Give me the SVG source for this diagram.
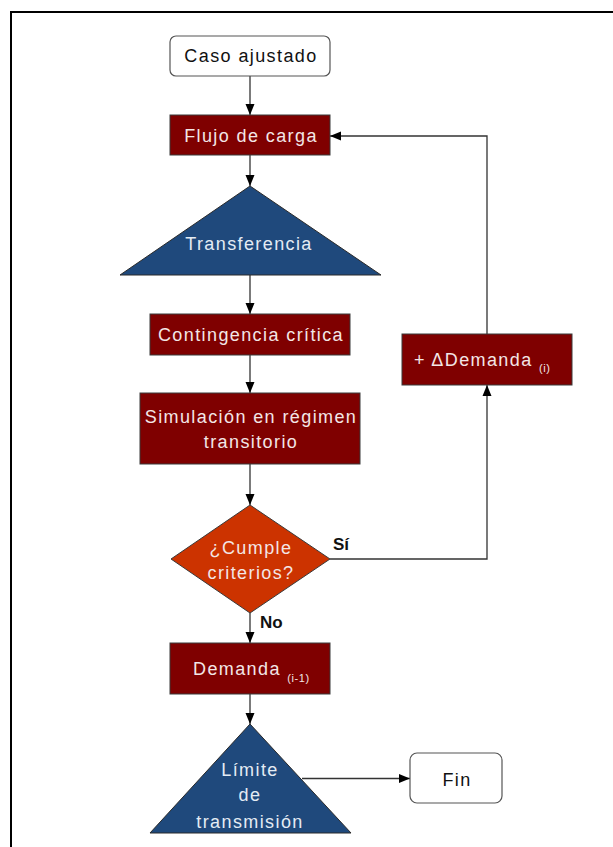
<svg xmlns="http://www.w3.org/2000/svg" width="613" height="847" viewBox="0 0 613 847">
  <defs>
    <marker id="arrow" markerUnits="userSpaceOnUse" markerWidth="12" markerHeight="12" viewBox="0 0 12 12" refX="11" refY="6" orient="auto">
      <path d="M0,1.5 L11,6 L0,10.5 Z" fill="#000"/>
    </marker>
    <style>
      .lbl { font-family: "Liberation Sans", Arial, sans-serif; font-size: 18px; letter-spacing: 1.4px; text-anchor: middle; }
      .light { fill: #f3e6e6; }
      .blue-t { fill: #e4ecf4; }
      .dark { fill: #111; }
      .sub { font-size: 11px; letter-spacing: 0.6px; }
      .tag { font-family: "Liberation Sans", Arial, sans-serif; font-size: 17px; font-weight: bold; fill: #111; }
      .term { fill: #fff; stroke: #555; stroke-width: 1.2; }
      .proc { fill: #7f0000; stroke: #3a3a3a; stroke-width: 1; }
      .tri { fill: #1f497c; stroke: #2a2a2a; stroke-width: 1; }
      .dec { fill: #cc3300; stroke: #3a3a3a; stroke-width: 1; }
      .edge { fill: none; stroke: #333; stroke-width: 1.3; }
    </style>
  </defs>

  <rect width="613" height="847" fill="#fff"/>
  <!-- frame -->
  <rect x="11" y="12" width="640" height="880" fill="none" stroke="#000" stroke-width="2"/>

  <!-- connectors -->
  <g id="connectors">
    <line class="edge" x1="250" y1="76" x2="250" y2="115" marker-end="url(#arrow)"/>
    <line class="edge" x1="250" y1="155" x2="250" y2="186" marker-end="url(#arrow)"/>
    <line class="edge" x1="250" y1="275" x2="250" y2="314" marker-end="url(#arrow)"/>
    <line class="edge" x1="250" y1="355" x2="250" y2="393" marker-end="url(#arrow)"/>
    <line class="edge" x1="250" y1="464" x2="250" y2="505" marker-end="url(#arrow)"/>
    <line class="edge" x1="250" y1="613" x2="250" y2="643" marker-end="url(#arrow)"/>
    <line class="edge" x1="250" y1="694" x2="250" y2="724" marker-end="url(#arrow)"/>
    <polyline class="edge" points="330,559 487,559 487,385" marker-end="url(#arrow)"/>
    <polyline class="edge" points="487,334 487,136 330,136" marker-end="url(#arrow)"/>
    <line class="edge" x1="302" y1="778.5" x2="410" y2="778.5" marker-end="url(#arrow)"/>
    <text class="tag" x="333" y="550">Sí</text>
    <text class="tag" x="260" y="628">No</text>
  </g>

  <g id="caso-ajustado">
    <rect class="term" x="170" y="36" width="160" height="40" rx="6"/>
    <text class="lbl dark" x="251" y="62">Caso ajustado</text>
  </g>

  <g id="flujo-de-carga">
    <rect class="proc" x="170" y="115" width="160" height="40"/>
    <text class="lbl light" x="251" y="142">Flujo de carga</text>
  </g>

  <g id="transferencia">
    <polygon class="tri" points="250,186 120,275 381,275"/>
    <text class="lbl blue-t" x="249" y="250">Transferencia</text>
  </g>

  <g id="contingencia">
    <rect class="proc" x="150" y="314" width="200" height="41"/>
    <text class="lbl light" x="251" y="341">Contingencia crítica</text>
  </g>

  <g id="simulacion">
    <rect class="proc" x="140" y="393" width="220" height="71"/>
    <text class="lbl light" x="251" y="423">Simulación en régimen</text>
    <text class="lbl light" x="251" y="448">transitorio</text>
  </g>

  <g id="cumple">
    <polygon class="dec" points="250,505 330,559 250,613 171,559"/>
    <text class="lbl light" x="251" y="554">¿Cumple</text>
    <text class="lbl light" x="251" y="579">criterios?</text>
  </g>

  <g id="delta-demanda">
    <rect class="proc" x="402" y="334" width="170" height="51"/>
    <text class="lbl light" x="414" y="366" style="text-anchor:start">+ ΔDemanda <tspan class="sub" dy="6">(i)</tspan></text>
  </g>

  <g id="demanda">
    <rect class="proc" x="170" y="643" width="160" height="51"/>
    <text class="lbl light" x="193" y="675" style="text-anchor:start">Demanda <tspan class="sub" dy="7">(i-1)</tspan></text>
  </g>

  <g id="limite">
    <polygon class="tri" points="250,724 150,833 351,833"/>
    <text class="lbl blue-t" x="250" y="776">Límite</text>
    <text class="lbl blue-t" x="250" y="801">de</text>
    <text class="lbl blue-t" x="250" y="828">transmisión</text>
  </g>

  <g id="fin">
    <rect class="term" x="410" y="753" width="92" height="50" rx="7"/>
    <text class="lbl dark" x="457" y="786">Fin</text>
  </g>
</svg>
